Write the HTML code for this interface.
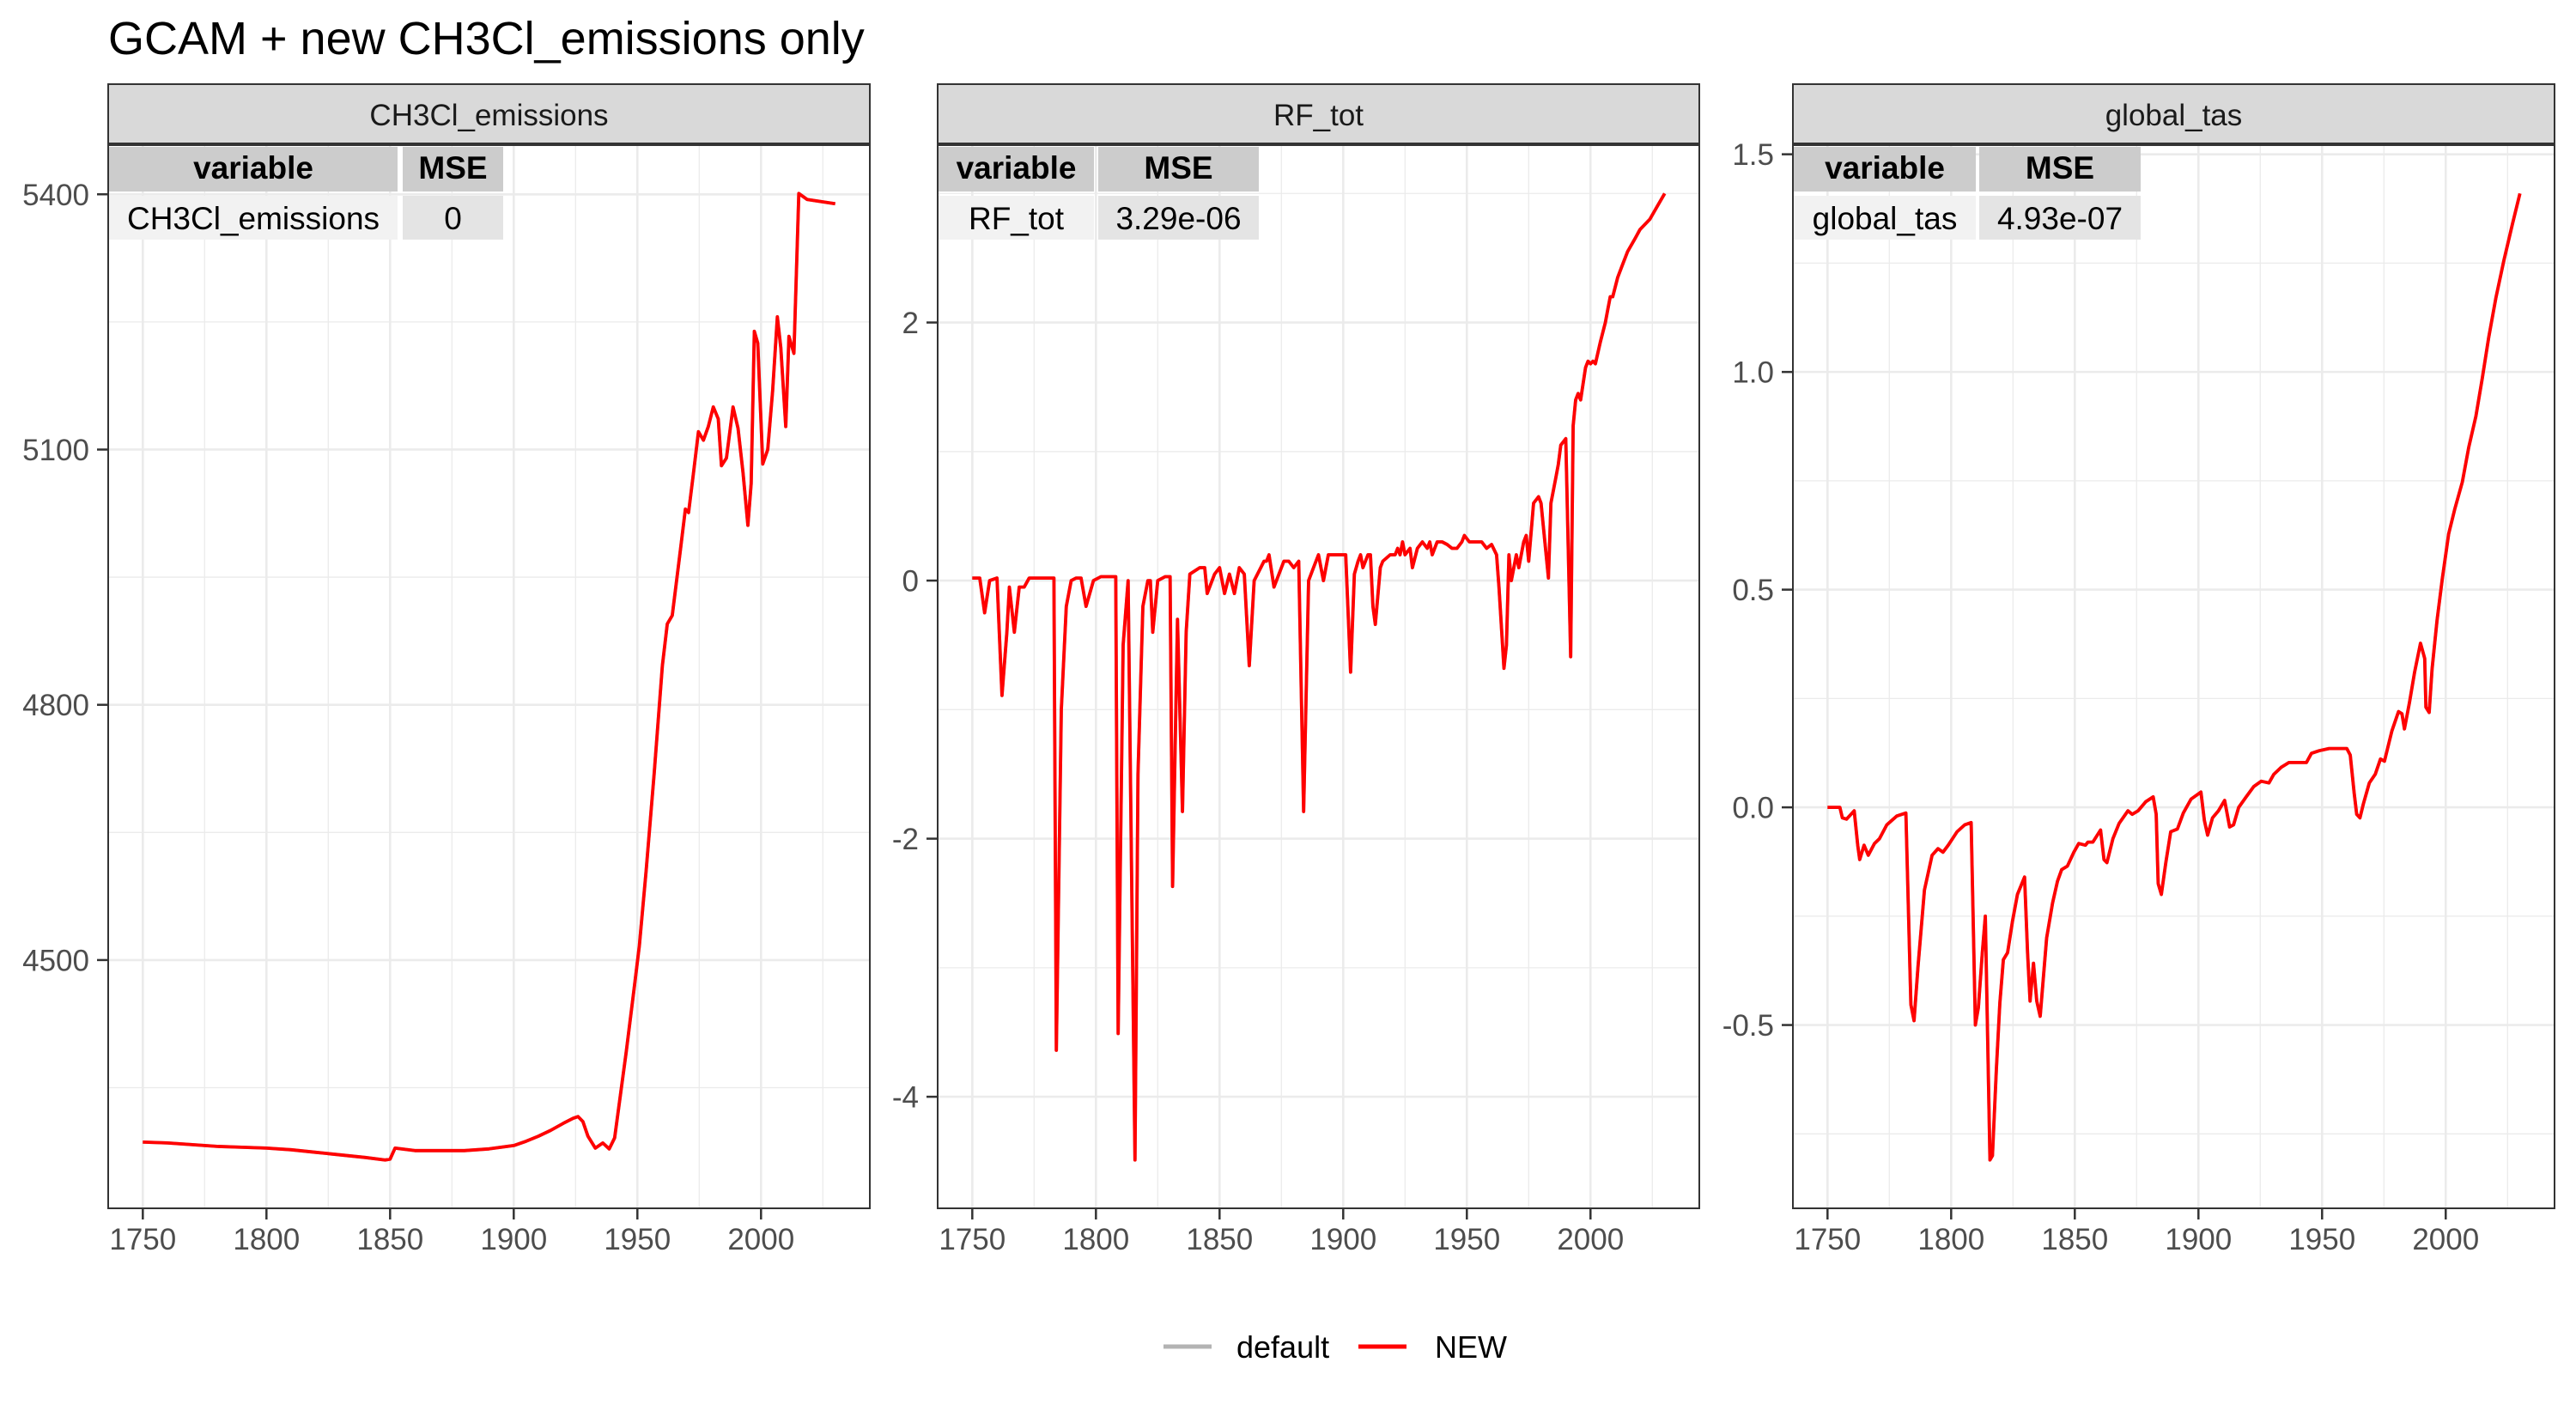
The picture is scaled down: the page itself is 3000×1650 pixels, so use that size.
<!DOCTYPE html>
<html><head><meta charset="utf-8">
<style>
html,body{margin:0;padding:0;background:#fff;}
svg{display:block;font-family:"Liberation Sans",Arial,sans-serif;}
</style></head>
<body>
<svg id="chart" xmlns="http://www.w3.org/2000/svg" width="3000" height="1650" viewBox="0 0 3000 1650">
<rect x="0" y="0" width="3000" height="1650" fill="#fff"/>
<text x="126" y="63" font-size="54" fill="#000">GCAM + new CH3Cl_emissions only</text>
<g>
<line x1="1355" y1="1568" x2="1411" y2="1568" stroke="#b3b3b3" stroke-width="5"/>
<text x="1440" y="1581" font-size="36" fill="#000">default</text>
<line x1="1582" y1="1568" x2="1638" y2="1568" stroke="#ff0000" stroke-width="5"/>
<text x="1671" y="1581" font-size="36" fill="#000">NEW</text>
</g>
</svg>
<script>
const xTicks = [1750, 1800, 1850, 1900, 1950, 2000];
const xMinor = [1775, 1825, 1875, 1925, 1975, 2025];

const ch3clYears = [1750,1760,1770,1780,1790,1800,1810,1820,1830,1840,1848,1850,1852,1860,1870,1880,1890,1900,1905,1910,1915,1920,1924,1926,1928,1930,1933,1936,1938.6,1940.8,1945.5,1948.8,1950.8,1953.5,1956.8,1960.1,1962.1,1964.1,1967.4,1969.4,1970.7,1972.7,1974.7,1976.7,1978.7,1980.7,1982.7,1984,1986,1988.7,1990.7,1992.7,1994.7,1996,1997.3,1998.7,2000.7,2002.7,2004.7,2006.6,2008,2010,2011.3,2013.3,2015.3,2018.6,2030];
const ch3clValues = [4286,4285,4283,4281,4280,4279,4277,4274,4271,4268,4265,4266,4279,4276,4276,4276,4278,4282,4287,4293,4300,4308,4314,4316,4310,4293,4279,4285,4278,4291,4392,4469,4517,4604,4720,4846,4895,4905,4982,5030,5026,5073,5121,5111,5127,5150,5136,5081,5090,5150,5125,5073,5011,5060,5239,5225,5083,5100,5169,5256,5220,5127,5233,5213,5401,5394,5389];
const ch3clTicks = [4500, 4800, 5100, 5400];
const ch3clMinor = [4350, 4650, 4950, 5250];

const rfYears = [1750,1753,1755,1757,1760,1762,1764,1765,1767,1769,1771,1773,1783,1784,1786,1788,1790,1792,1794,1796,1799,1802,1805,1808,1809,1811,1813,1815.8,1817,1819,1821,1822,1823,1825,1828,1830,1831,1833,1835,1836.5,1838,1842,1844,1845,1848,1850,1852,1854,1856,1858,1860,1862,1864,1868,1869,1870,1872,1876,1878,1880,1882,1884,1886,1888,1890,1892,1894,1898,1901,1903,1904.5,1906,1907,1908,1910,1911,1912,1913,1915,1916,1919,1921,1922,1923,1924,1925,1927,1928,1930,1932,1934,1935,1936,1938,1940,1942,1944,1946,1948,1949,1951,1952,1954,1956,1958,1960,1962,1963,1965,1966,1967,1968,1970,1971,1973,1974,1975,1977,1979,1980,1983,1984,1986,1987,1988,1990,1992,1993,1994,1995,1996,1998,1999,2000,2001,2002,2004,2006,2007,2008,2009,2011,2013,2015,2018,2020,2024,2027,2030];
const rfValues = [0.02,0.02,-0.25,0,0.02,-0.89,-0.4,-0.05,-0.4,-0.05,-0.05,0.02,0.02,-3.64,-1,-0.2,0,0.02,0.02,-0.2,0,0.03,0.03,0.03,-3.51,-0.5,0,-4.49,-1.5,-0.2,0,0,-0.4,0,0.03,0.03,-2.37,-0.3,-1.79,-0.4,0.05,0.1,0.1,-0.1,0.05,0.1,-0.1,0.05,-0.1,0.1,0.05,-0.66,0,0.15,0.15,0.2,-0.05,0.15,0.15,0.1,0.15,-1.79,0,0.1,0.2,0,0.2,0.2,0.2,-0.71,0.05,0.15,0.2,0.1,0.2,0.2,-0.2,-0.34,0.1,0.15,0.2,0.2,0.25,0.2,0.3,0.2,0.25,0.1,0.25,0.3,0.25,0.3,0.2,0.3,0.3,0.28,0.25,0.25,0.3,0.35,0.3,0.3,0.3,0.3,0.25,0.28,0.2,-0.05,-0.68,-0.5,0.2,0,0.2,0.1,0.3,0.35,0.15,0.6,0.65,0.6,0.02,0.6,0.8,0.9,1.05,1.1,-0.59,1.2,1.4,1.45,1.4,1.65,1.7,1.68,1.7,1.68,1.85,2.0,2.1,2.2,2.2,2.35,2.45,2.55,2.65,2.72,2.8,2.9,3.0,3.0];
const rfTicks = [-4, -2, 0, 2];
const rfMinor = [-3, -1, 1, 3];

const tasYears = [1750,1753.7,1755,1756,1757.7,1760.8,1762.2,1763,1764.8,1766.5,1769,1771,1774,1778,1781.7,1783.7,1785,1786.6,1789.2,1792.3,1794.7,1796.7,1798.8,1802.4,1805.5,1808.1,1809.8,1811,1812.6,1813.8,1815.7,1816.7,1818.3,1819.7,1821.1,1822.8,1824.8,1826.8,1829.7,1830.9,1831.9,1833.3,1834.6,1836,1838.6,1841,1843,1844.7,1847,1849.6,1851.6,1854.3,1855.3,1857.3,1860.4,1861.8,1863,1865.4,1867.9,1871.5,1873.2,1875.6,1878.7,1881.7,1882.9,1883.7,1885,1886.8,1888.8,1891.5,1893.9,1897,1901,1902.4,1903.7,1905.7,1908.1,1910.6,1912.6,1914.2,1916.3,1919.3,1922.4,1925.4,1928.5,1930.5,1933.5,1936.6,1940.7,1943.7,1945.7,1948.8,1952.8,1956.9,1960,1961.4,1963,1964,1965.3,1966.7,1969.1,1971.5,1973.6,1975.2,1978.2,1980.9,1982.3,1983.3,1985.3,1987.4,1989.8,1991.5,1992,1993.3,1994.5,1996.5,1998.6,2001.2,2003.6,2006.7,2009.3,2012.2,2014.8,2017.4,2020.3,2023.5,2027,2030];
const tasValues = [0,0,0,-0.024,-0.027,-0.008,-0.087,-0.12,-0.087,-0.11,-0.083,-0.072,-0.04,-0.02,-0.013,-0.453,-0.49,-0.366,-0.19,-0.11,-0.095,-0.103,-0.087,-0.056,-0.04,-0.035,-0.5,-0.46,-0.334,-0.25,-0.81,-0.8,-0.6,-0.45,-0.35,-0.334,-0.262,-0.2,-0.16,-0.334,-0.445,-0.358,-0.445,-0.48,-0.3,-0.22,-0.17,-0.143,-0.135,-0.103,-0.083,-0.087,-0.08,-0.08,-0.052,-0.12,-0.127,-0.072,-0.037,-0.008,-0.016,-0.008,0.013,0.024,-0.016,-0.175,-0.2,-0.127,-0.056,-0.05,-0.013,0.019,0.035,-0.03,-0.064,-0.024,-0.008,0.016,-0.045,-0.04,0,0.024,0.048,0.06,0.056,0.076,0.092,0.103,0.103,0.103,0.124,0.13,0.135,0.135,0.135,0.12,0.032,-0.016,-0.024,0.008,0.056,0.076,0.111,0.106,0.175,0.22,0.215,0.18,0.24,0.31,0.377,0.342,0.23,0.218,0.318,0.43,0.525,0.628,0.684,0.747,0.827,0.898,0.986,1.08,1.17,1.256,1.34,1.41];
const tasTicks = [-0.5, 0.0, 0.5, 1.0, 1.5];
const tasTickLabels = ["-0.5", "0.0", "0.5", "1.0", "1.5"];
const tasMinor = [-0.75, -0.25, 0.25, 0.75, 1.25];

const NS = "http://www.w3.org/2000/svg";
const svg = document.getElementById("chart");
function mk(tag, attrs, parent) {
  const e = document.createElementNS(NS, tag);
  for (const k in attrs) e.setAttribute(k, attrs[k]);
  parent.appendChild(e);
  return e;
}
const TOP = 169, BOT = 1407;
const X0 = 1736, X1 = 2044;

function drawPanel(cfg) {
  const L = cfg.left, R = cfg.left + 887;
  const g = mk("g", {}, svg);
  
  
  let mn = Math.min(...cfg.values), mx = Math.max(...cfg.values);
  const pad = (mx - mn) * 0.05; mn -= pad; mx += pad;
  const xs = v => L + (v - X0) / (X1 - X0) * (R - L);
  const ys = v => BOT - (v - mn) / (mx - mn) * (BOT - TOP);

  mk("rect", {x: L, y: TOP, width: R - L, height: BOT - TOP, fill: "#fff"}, g);
  // minor grid
  cfg.minor.forEach(v => {
    const y = ys(v);
    if (y < TOP || y > BOT) return;
    const l = mk("line", {x1: L, x2: R, y1: y, y2: y, stroke: "#ebebeb", "stroke-width": 1.3}, g);
    
    
  });
  xMinor.forEach(v => {
    const x = xs(v);
    const l = mk("line", {x1: x, x2: x, y1: TOP, y2: BOT, stroke: "#ebebeb", "stroke-width": 1.3}, g);
    
    
  });
  cfg.ticks.forEach(v => {
    const y = ys(v);
    const l = mk("line", {x1: L, x2: R, y1: y, y2: y, stroke: "#ebebeb", "stroke-width": 2.6}, g);
    
    
  });
  xTicks.forEach(v => {
    const x = xs(v);
    const l = mk("line", {x1: x, x2: x, y1: TOP, y2: BOT, stroke: "#ebebeb", "stroke-width": 2.6}, g);
    
    
  });
  // series
  const pts = cfg.years.map((yr, i) => xs(yr).toFixed(1) + "," + ys(cfg.values[i]).toFixed(1)).join(" ");
  const d = mk("polyline", {points: pts, fill: "none", stroke: "#b3b3b3", "stroke-width": 3.8, "stroke-linejoin": "round"}, g);
  
  
  const n = mk("polyline", {points: pts, fill: "none", stroke: "#ff0000", "stroke-width": 3.8, "stroke-linejoin": "round"}, g);
  
  

  // table
  const tb = mk("g", {}, g);
  
  
  const c = cfg.cols;
  mk("rect", {x: c[0], y: 171, width: c[1] - c[0], height: 52, fill: "#cccccc"}, tb);
  mk("rect", {x: c[2], y: 171, width: c[3] - c[2], height: 52, fill: "#cccccc"}, tb);
  mk("rect", {x: c[0], y: 228, width: c[1] - c[0], height: 51, fill: "#f2f2f2"}, tb);
  mk("rect", {x: c[2], y: 228, width: c[3] - c[2], height: 51, fill: "#e4e4e4"}, tb);
  const t1 = mk("text", {x: (c[0] + c[1]) / 2, y: 208, "font-size": 37, "font-weight": "bold", "text-anchor": "middle", fill: "#000"}, tb);
  t1.textContent = "variable";
  
  
  const t2 = mk("text", {x: (c[2] + c[3]) / 2, y: 208, "font-size": 37, "font-weight": "bold", "text-anchor": "middle", fill: "#000"}, tb);
  t2.textContent = "MSE";
  
  
  const t3 = mk("text", {x: (c[0] + c[1]) / 2, y: 267, "font-size": 37, "text-anchor": "middle", fill: "#000"}, tb);
  t3.textContent = cfg.name;
  
  
  const t4 = mk("text", {x: (c[2] + c[3]) / 2, y: 267, "font-size": 37, "text-anchor": "middle", fill: "#000"}, tb);
  t4.textContent = cfg.mse;
  
  

  // border
  const b = mk("rect", {x: L, y: TOP, width: R - L, height: BOT - TOP, fill: "none", stroke: "#333", "stroke-width": 2}, g);
  
  
  // strip
  const s = mk("rect", {x: L, y: 98, width: R - L, height: 69, fill: "#d9d9d9", stroke: "#333", "stroke-width": 2}, g);
  
  
  const st = mk("text", {x: (L + R) / 2, y: 146, "font-size": 35, "text-anchor": "middle", fill: "#1a1a1a"}, g);
  st.textContent = cfg.name;
  
  

  // axes ticks
  xTicks.forEach(v => {
    const x = xs(v);
    const tk = mk("line", {x1: x, x2: x, y1: BOT, y2: BOT + 13, stroke: "#333", "stroke-width": 2.5}, g);
    
    
    const tl = mk("text", {x: x, y: 1455, "font-size": 35, "text-anchor": "middle", fill: "#4d4d4d"}, g);
    tl.textContent = String(v);
    
    
  });
  cfg.ticks.forEach((v, i) => {
    const y = ys(v);
    const tk = mk("line", {x1: L - 13, x2: L, y1: y, y2: y, stroke: "#333", "stroke-width": 2.5}, g);
    
    
    const tl = mk("text", {x: L - 22, y: y + 12.5, "font-size": 35, "text-anchor": "end", fill: "#4d4d4d"}, g);
    tl.textContent = cfg.labels ? cfg.labels[i] : String(v);
    
    
  });
}

drawPanel({name: "CH3Cl_emissions", mse: "0", left: 126, years: ch3clYears, values: ch3clValues, ticks: ch3clTicks, minor: ch3clMinor, cols: [127, 463, 469, 586]});
drawPanel({name: "RF_tot", mse: "3.29e-06", left: 1092, years: rfYears, values: rfValues, ticks: rfTicks, minor: rfMinor, cols: [1093, 1274, 1279, 1466]});
drawPanel({name: "global_tas", mse: "4.93e-07", left: 2088, years: tasYears, values: tasValues, ticks: tasTicks, labels: tasTickLabels, minor: tasMinor, cols: [2089, 2301, 2305, 2493]});
</script>
</body></html>
